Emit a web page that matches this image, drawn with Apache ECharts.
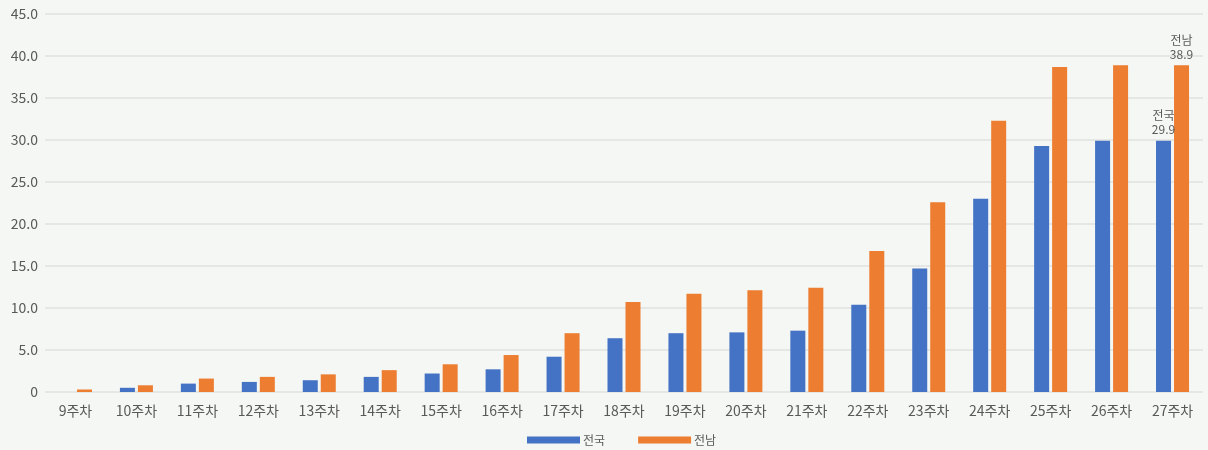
<!DOCTYPE html>
<html>
<head>
<meta charset="utf-8">
<script src="https://cdn.jsdelivr.net/npm/echarts@6/dist/echarts.min.js"></script>
<style>
html,body{margin:0;padding:0;background:#f4f7f3;}
#chart{width:1208px;height:450px;}
</style>
</head>
<body>
<div id="chart"></div>
<script>
const categories = ['9주차','10주차','11주차','12주차','13주차','14주차','15주차','16주차','17주차','18주차','19주차','20주차','21주차','22주차','23주차','24주차','25주차','26주차','27주차'];
const nationalName = '전국';
const jeonnamName = '전남';
const nationalValues = [0.0, 0.5, 1.0, 1.2, 1.4, 1.8, 2.2, 2.7, 4.2, 6.4, 7.0, 7.1, 7.3, 10.4, 14.7, 23.0, 29.3, 29.9, 29.9];
const jeonnamValues  = [0.3, 0.8, 1.6, 1.8, 2.1, 2.6, 3.3, 4.4, 7.0, 10.7, 11.7, 12.1, 12.4, 16.8, 22.6, 32.3, 38.7, 38.9, 38.9];
const yTicks = {min: 0, max: 45, interval: 5};

const BG = '#f4f7f3';
const FONT = "'Noto Sans CJK KR', 'Noto Sans', sans-serif";
const lastIdx = categories.length - 1;

function makeData(vals, name) {
  return vals.map((v, i) => i === lastIdx ? {
    value: v,
    label: {
      show: true, position: 'top', distance: 4,
      formatter: name + '\n' + v.toFixed(1),
      color: '#595959', fontSize: 12, lineHeight: 14, fontFamily: FONT
    }
  } : v);
}

const chart = echarts.init(document.getElementById('chart'));
chart.setOption({
  backgroundColor: BG,
  animation: false,
  grid: {left: 45, right: 5, top: 14, bottom: 58, containLabel: false},
  legend: {
    left: 522, top: 429,
    itemWidth: 53, itemHeight: 7, itemGap: 33,
    icon: 'rect',
    textStyle: {color: '#595959', fontSize: 12, fontFamily: FONT, padding: [0, 0, 0, -2]},
    data: [nationalName, jeonnamName]
  },
  xAxis: {
    type: 'category',
    data: categories,
    axisLine: {show: false},
    axisTick: {show: false},
    axisLabel: {color: '#595959', fontSize: 14, fontFamily: FONT, margin: 12}
  },
  yAxis: {
    type: 'value',
    min: yTicks.min, max: yTicks.max, interval: yTicks.interval,
    axisLine: {show: false},
    axisTick: {show: false},
    axisLabel: {
      color: '#595959', fontSize: 14, fontFamily: FONT, margin: 7,
      formatter: v => v === 0 ? '0' : v.toFixed(1)
    },
    splitLine: {lineStyle: {color: '#e0e2df', width: 1.5}}
  },
  series: [
    {
      name: nationalName, type: 'bar',
      data: makeData(nationalValues, nationalName),
      barWidth: 15, barGap: '20%',
      itemStyle: {color: '#4472C4'}
    },
    {
      name: jeonnamName, type: 'bar',
      data: makeData(jeonnamValues, jeonnamName),
      barWidth: 15, barGap: '20%',
      itemStyle: {color: '#ED7D31'}
    }
  ]
});
</script>
</body>
</html>
